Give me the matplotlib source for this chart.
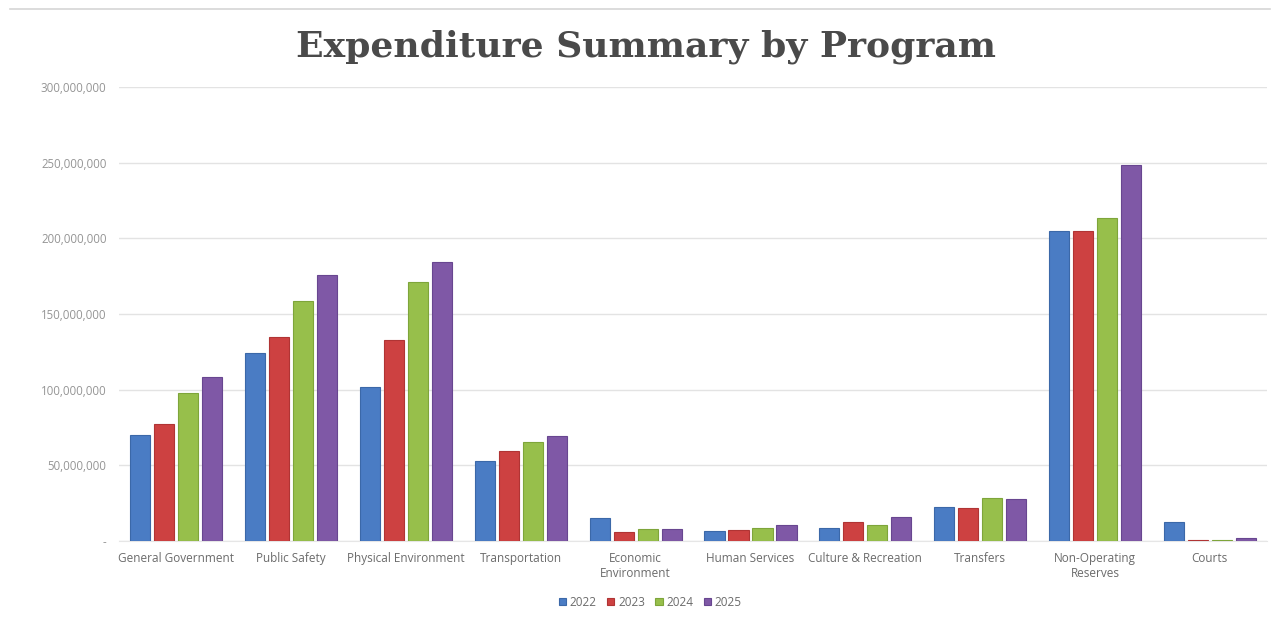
import numpy as np
import matplotlib
matplotlib.use("Agg")
import matplotlib.pyplot as plt
from matplotlib.ticker import FuncFormatter, MultipleLocator
from matplotlib.lines import Line2D

# ------------------------------
# Data (dollars)
# ------------------------------
programs = ["General Government", "Public Safety", "Physical Environment",
            "Transportation", "Economic\nEnvironment", "Human Services",
            "Culture & Recreation", "Transfers", "Non-Operating\nReserves", "Courts"]
years = ["2022", "2023", "2024", "2025"]

fy2022 = [70.0e6, 124.0e6, 102.0e6, 53.0e6, 15.4e6, 6.8e6, 8.8e6, 22.3e6, 205.0e6, 12.4e6]
fy2023 = [77.0e6, 134.5e6, 133.0e6, 59.7e6, 6.1e6, 7.3e6, 12.8e6, 21.6e6, 205.0e6, 0.8e6]
fy2024 = [98.0e6, 158.5e6, 171.0e6, 65.4e6, 8.1e6, 8.6e6, 10.4e6, 28.6e6, 213.7e6, 0.8e6]
fy2025 = [108.6e6, 175.5e6, 184.6e6, 69.4e6, 7.7e6, 10.6e6, 16.0e6, 27.5e6, 248.3e6, 2.2e6]

colors = ["#4a7cc4", "#cd4141", "#97bf4b", "#7f58a6"]
edges = ["#3b68a8", "#b03434", "#7ea53a", "#684690"]

# ------------------------------
# Plot
# ------------------------------
fig = plt.figure(figsize=(12.8, 6.19), dpi=100)
ax = fig.add_axes([0.093, 0.126, 0.897, 0.7335])

x = np.arange(len(programs))
slot = 0.209
width = 0.175
for i, (vals, yr) in enumerate(zip([fy2022, fy2023, fy2024, fy2025], years)):
    ax.bar(x + (i - 1.5) * slot, vals, width, color=colors[i],
           edgecolor=edges[i], linewidth=0.8, label=yr, zorder=3)

ax.set_xlim(-0.5, len(programs) - 0.5)
ax.set_ylim(0, 300e6)
ax.yaxis.set_major_locator(MultipleLocator(50e6))
ax.yaxis.set_major_formatter(FuncFormatter(lambda v, p: "-" if v == 0 else f"{v:,.0f}"))
ax.grid(axis="y", color="#e3e3e3", linewidth=1.0, zorder=0)

for s in ["top", "right", "left"]:
    ax.spines[s].set_visible(False)
ax.spines["bottom"].set_color("#e6e6e6")

ax.set_xticks(x)
ax.set_xticklabels(programs, fontsize=8.5, color="#6b6b6b", family="Open Sans")
ax.tick_params(axis="x", length=0, pad=8)
ax.tick_params(axis="y", length=0, pad=9, labelsize=8.3, labelcolor="#959595")
for t in ax.get_yticklabels():
    t.set_family("Open Sans")

fig.text(0.505, 0.925, "Expenditure Summary by Program", ha="center", va="center",
         fontsize=26, fontweight="bold", family="DejaVu Serif", color="#4a4a4a")

leg = fig.legend(loc="center", bbox_to_anchor=(0.508, 0.027), ncol=4, frameon=False,
                 fontsize=8.5, handlelength=0.6, handleheight=0.6, handletextpad=0.3,
                 columnspacing=0.9)
for t in leg.get_texts():
    t.set_color("#6b6b6b")
    t.set_family("Open Sans")

# thin rule across the top of the page
fig.add_artist(Line2D([0.008, 0.992], [0.986, 0.986], color="#d6d6d6", linewidth=1.2))

fig.savefig("out.png", dpi=100, facecolor="white")
